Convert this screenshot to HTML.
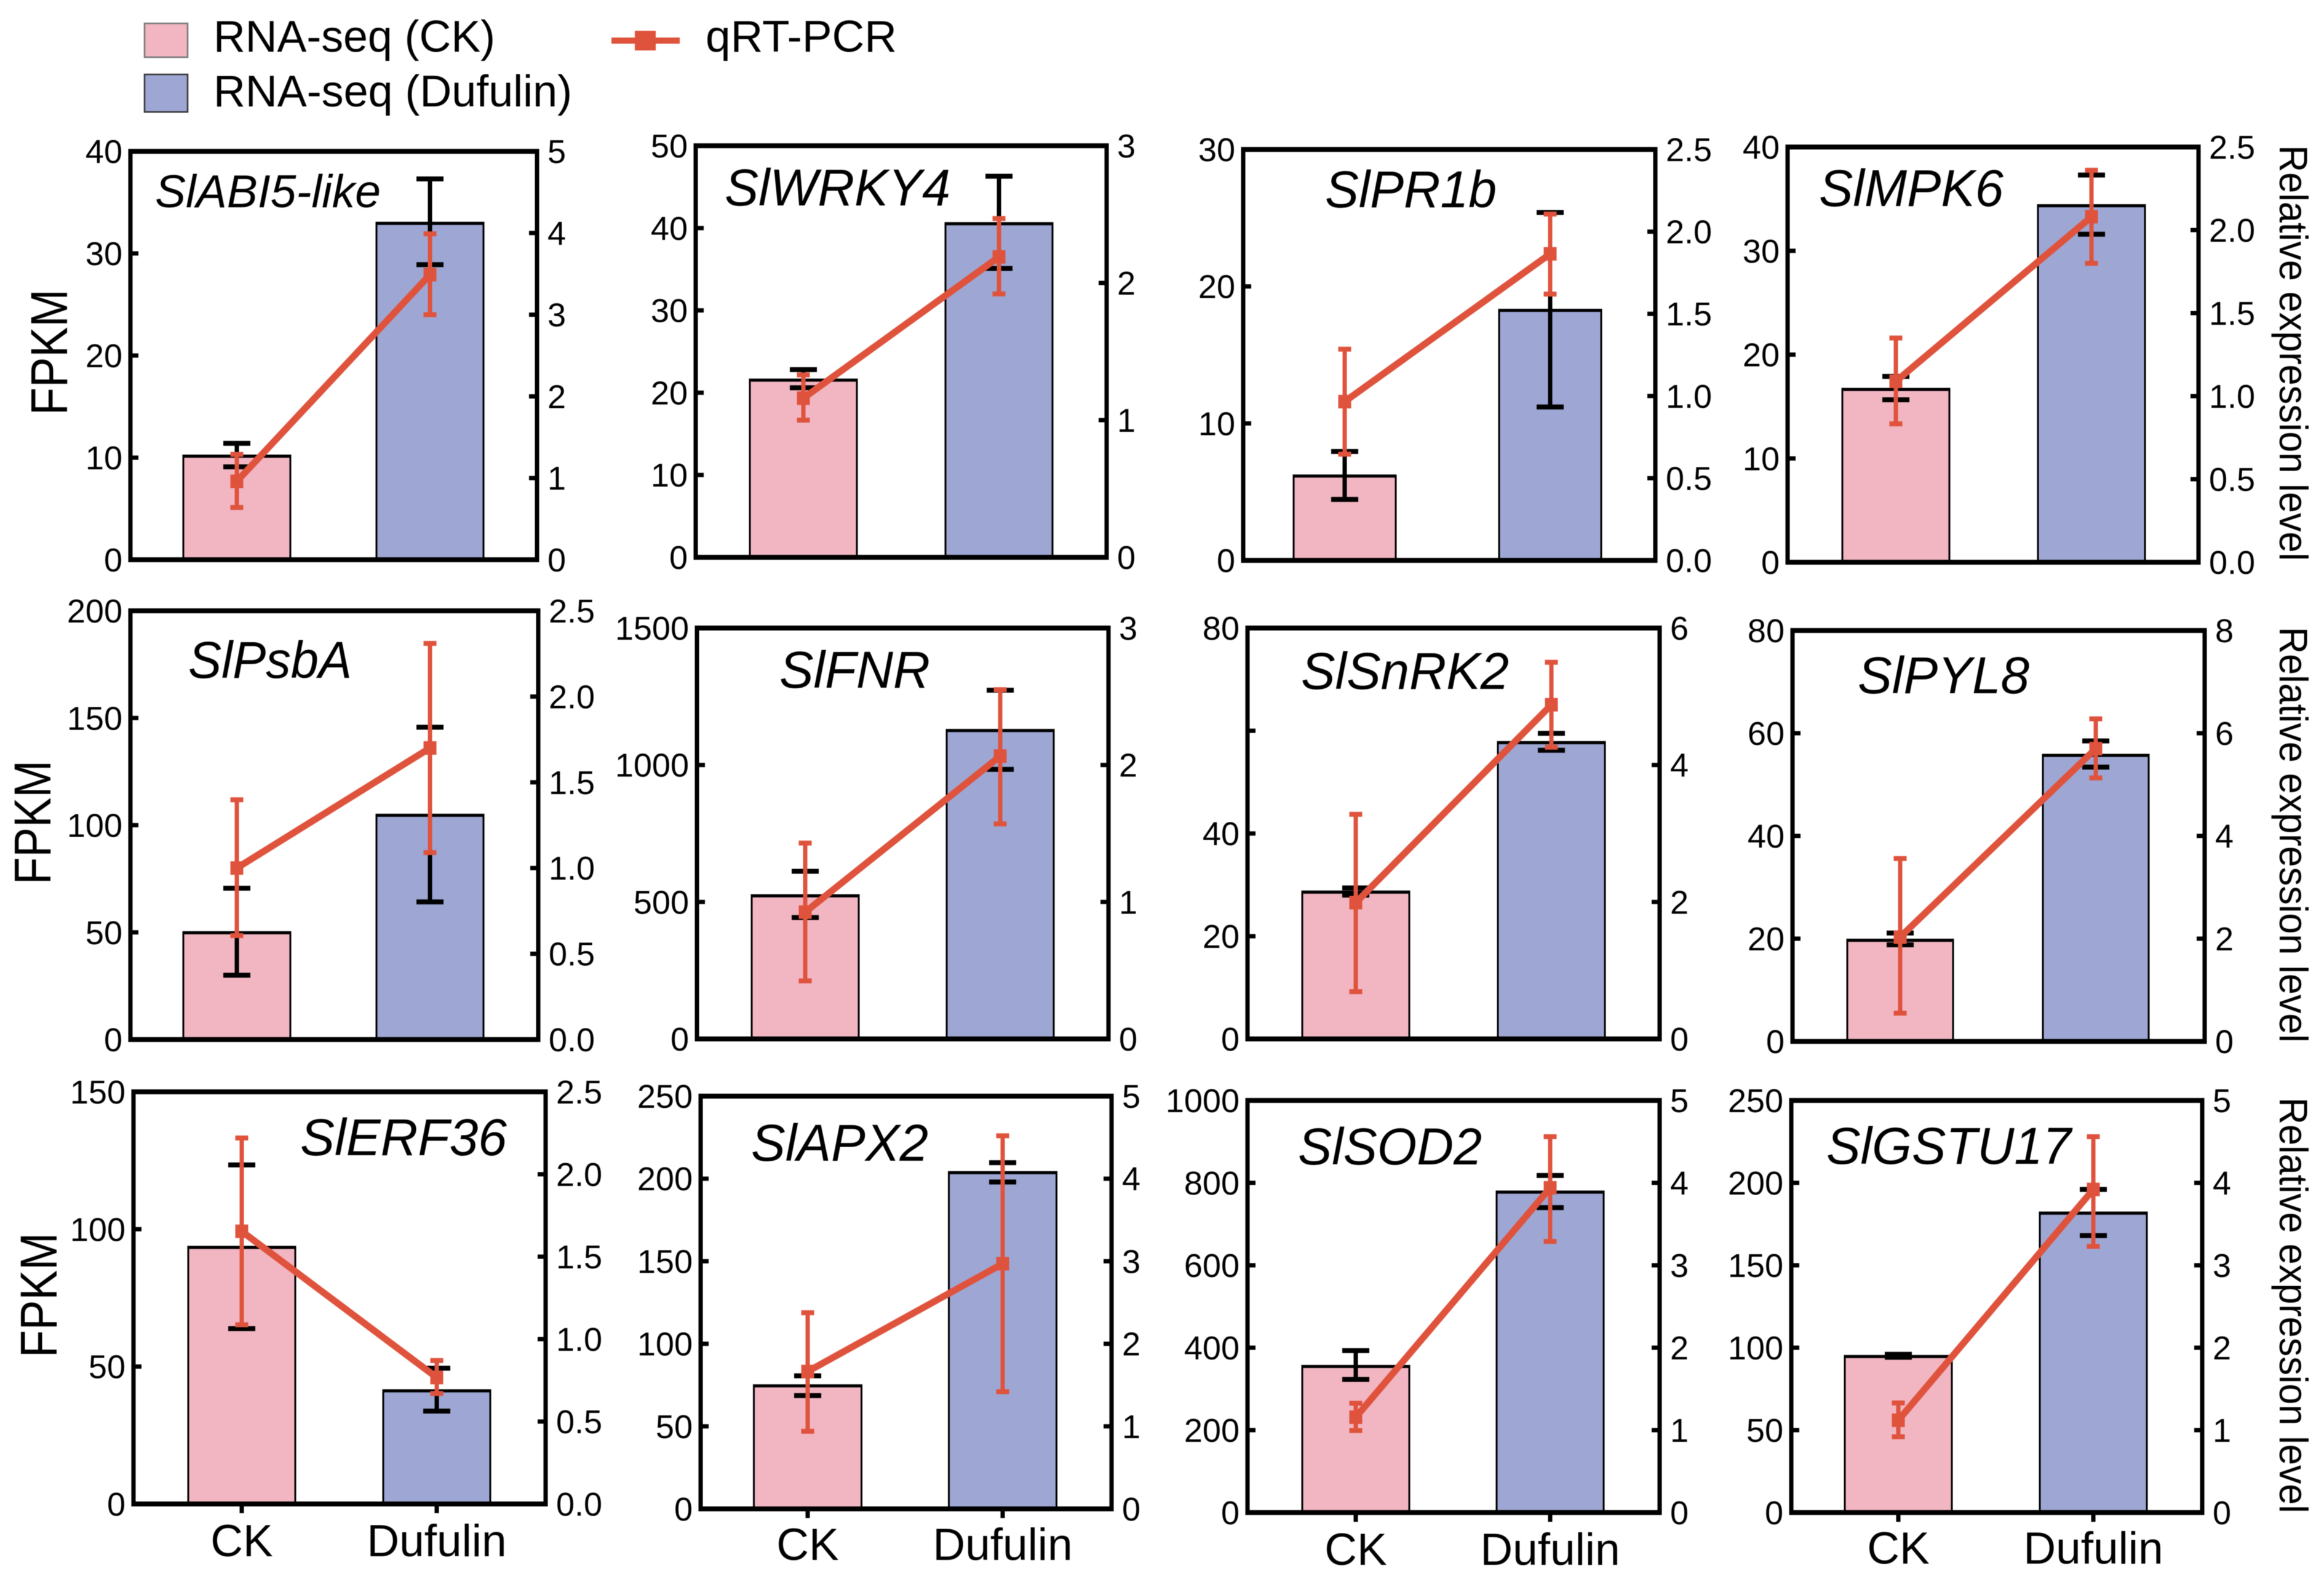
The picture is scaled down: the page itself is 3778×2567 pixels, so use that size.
<!DOCTYPE html>
<html lang="en">
<head>
<meta charset="utf-8">
<title>RNA-seq and qRT-PCR expression panels</title>
<style>
html,body{margin:0;padding:0;background:#fff;}
svg{display:block;filter:blur(0.6px);}
text{font-family:"Liberation Sans",sans-serif;fill:#000;}
</style>
</head>
<body>
<svg id="figure" xmlns="http://www.w3.org/2000/svg" width="3778" height="2567" viewBox="0 0 3778 2567">
  <rect width="3778" height="2567" fill="#fff"/>
  <g>
    <rect x="235" y="38" width="70" height="55" fill="#F1B6C2" stroke="#777" stroke-width="2.5"/>
    <text x="347" y="84" font-size="72" textLength="458" lengthAdjust="spacingAndGlyphs">RNA-seq (CK)</text>
    <rect x="235" y="121" width="70" height="61" fill="#9EA7D4" stroke="#333" stroke-width="2.5"/>
    <text x="347" y="173" font-size="72" textLength="583" lengthAdjust="spacingAndGlyphs">RNA-seq (Dufulin)</text>
    <line x1="994" y1="66" x2="1105" y2="66" stroke="#DF533D" stroke-width="10"/>
    <rect x="1032" y="50" width="34" height="32" fill="#DF533D"/>
    <text x="1147" y="84" font-size="72" textLength="311" lengthAdjust="spacingAndGlyphs">qRT-PCR</text>
  </g>
  <g id="panels"></g>
</svg>
<script>
// ---- Data ----
const geneNames = ['SlABI5-like','SlWRKY4','SlPR1b','SlMPK6','SlPsbA','SlFNR','SlSnRK2','SlPYL8','SlERF36','SlAPX2','SlSOD2','SlGSTU17'];
const categories = ['CK','Dufulin'];
const leftMax = [40,50,30,40,200,1500,80,80,150,250,1000,250];
const rightMax = [5,3,2.5,2.5,2.5,3,6,8,2.5,5,5,5];
const leftTicks = [
  [0,10,20,30,40],[0,10,20,30,40,50],[0,10,20,30],[0,10,20,30,40],
  [0,50,100,150,200],[0,500,1000,1500],[0,20,40,60,80],[0,20,40,60,80],
  [0,50,100,150],[0,50,100,150,200,250],[0,200,400,600,800,1000],[0,50,100,150,200,250]
];
const leftTickLabels = [
  ['0','10','20','30','40'],['0','10','20','30','40','50'],['0','10','20','30'],['0','10','20','30','40'],
  ['0','50','100','150','200'],['0','500','1000','1500'],['0','20','40','','80'],['0','20','40','60','80'],
  ['0','50','100','150'],['0','50','100','150','200','250'],['0','200','400','600','800','1000'],['0','50','100','150','200','250']
];
const rightTicks = [
  [0,1,2,3,4,5],[0,1,2,3],[0,0.5,1,1.5,2,2.5],[0,0.5,1,1.5,2,2.5],
  [0,0.5,1,1.5,2,2.5],[0,1,2,3],[0,2,4,6],[0,2,4,6,8],
  [0,0.5,1,1.5,2,2.5],[0,1,2,3,4,5],[0,1,2,3,4,5],[0,1,2,3,4,5]
];
const rightTickLabels = [
  ['0','1','2','3','4','5'],['0','1','2','3'],['0.0','0.5','1.0','1.5','2.0','2.5'],['0.0','0.5','1.0','1.5','2.0','2.5'],
  ['0.0','0.5','1.0','1.5','2.0','2.5'],['0','1','2','3'],['0','2','4','6'],['0','2','4','6','8'],
  ['0.0','0.5','1.0','1.5','2.0','2.5'],['0','1','2','3','4','5'],['0','1','2','3','4','5'],['0','1','2','3','4','5']
];
const fpkmMean = [[10.2,33],[21.6,40.6],[6.2,18.3],[16.7,34.4],[50.1,104.9],[524.6,1128],[28.7,57.8],[19.8,55.8],[93.6,41.4],[74.9,204],[356,779],[95,182]];
const fpkmHigh = [[11.4,37.3],[22.8,46.3],[7.95,25.4],[17.9,37.3],[70.6,145.7],[612,1273],[29.4,59.5],[21.1,58.5],[123.4,49.4],[80.6,209.7],[393,818],[96,196]];
const fpkmLow = [[9.1,28.9],[20.6,35.1],[4.45,11.2],[15.65,31.6],[30,64.2],[443,984],[28,56.2],[18.8,53.4],[63.8,33.8],[68.6,198],[323,740],[94.2,168]];
const qpcrMean = [[0.96,3.49],[1.16,2.19],[0.966,1.865],[1.089,2.08],[1.0,1.7],[0.926,2.065],[1.99,4.88],[2.03,5.7],[1.654,0.767],[1.664,2.97],[1.157,3.94],[1.12,3.92]];
const qpcrHigh = [[1.29,3.99],[1.33,2.47],[1.285,2.107],[1.35,2.36],[1.398,2.31],[1.43,2.55],[3.28,5.5],[3.56,6.28],[2.22,0.87],[2.376,4.52],[1.326,4.56],[1.33,4.56]];
const qpcrLow = [[0.64,3.0],[1.0,1.92],[0.646,1.62],[0.833,1.8],[0.606,1.09],[0.424,1.57],[0.69,4.26],[0.55,5.13],[1.087,0.67],[0.94,1.42],[0.995,3.29],[0.92,3.23]];
const leftAxisTitle = 'FPKM';
const rightAxisTitle = 'Relative expression level';

// ---- Layout (separate from the data) ----
const frameLeft = [212,1131,2021,2906,212,1133,2028,2914,217,1139,2028,2912];
const frameRight = [873,1799,2691,3574,875,1802,2698,3584,887,1807,2698,3580];
const frameTop = [246,237,243,239,993,1021,1021,1025,1775,1782,1789,1789];
const frameBottom = [910,906,911,914,1690,1689,1689,1693,2445,2453,2459,2459];
const barCenterA = [385,1306,2186,3082,385,1309,2204,3089,393,1313,2204,3086];
const barCenterB = [699,1624,2520,3400,699,1626,2522,3407,710,1630,2520,3403];
const barWidth = [174,174,166,174,174,174,174,172,174,175,174,174];
const titleX = [252,1178,2154,2957,306,1267,2115,3020,488,1221,2110,2969];
const titleY = [337,334,337,335,1102,1118,1120,1127,1878,1887,1893,1892];
const titleWidth = [367,367,279,300,266,245,338,279,336,288,299,398];
const titleSize = [75,84,84,84,84,84,84,84,84,84,84,84];
const leftTitleX = [109,82,92];
const leftTitleY = [675,1438,2207];
const leftTitleLen = [205,202,203];
const rightTitleY = [236,1019,1784];
const xLabelY = [null,null,null,null,null,null,null,null,2530,2536,2544,2542];

const PINK = '#F1B6C2', BLUE = '#9EA7D4', RED = '#DF533D', BLACK = '#000';
const SVGNS = 'http://www.w3.org/2000/svg';
const root = document.getElementById('panels');

function setAll(el, attrs) {
  for (const k in attrs) el.setAttribute(k, attrs[k]);
  return el;
}
function shape(parent, tag, attrs, name) {
  const el = setAll(document.createElementNS(SVGNS, tag), attrs);
  
  
  parent.appendChild(el);
  return el;
}
function label(parent, str, attrs, name) {
  const el = shape(parent, 'text', attrs, name);
  el.textContent = str;
  return el;
}
function hBar(parent, cx, y, w, h, fill, name) {
  return shape(parent, 'rect', {x: cx - w / 2, y: y - h / 2, width: w, height: h, fill: fill}, name);
}
function vStem(parent, cx, y1, y2, w, fill, name) {
  return shape(parent, 'rect', {x: cx - w / 2, y: Math.min(y1, y2), width: w, height: Math.abs(y2 - y1), fill: fill}, name);
}

geneNames.forEach(function (gene, i) {
  const L = frameLeft[i], R = frameRight[i], T = frameTop[i], B = frameBottom[i];
  const yLeft = function (v) { return B - (v / leftMax[i]) * (B - T); };
  const yRight = function (v) { return B - (v / rightMax[i]) * (B - T); };
  const centers = [barCenterA[i], barCenterB[i]];
  const bw = barWidth[i];
  const g = shape(root, 'g', {}, 'panel-' + gene.toLowerCase());

  // bars
  categories.forEach(function (cat, c) {
    const top = yLeft(fpkmMean[i][c]);
    const key = cat.toLowerCase();
    shape(g, 'rect', {x: centers[c] - bw / 2, y: top, width: bw, height: B - top, fill: c === 0 ? PINK : BLUE, stroke: BLACK, 'stroke-width': 3}, 'bar-' + key);
    hBar(g, centers[c], top + 1, bw + 3, 5, BLACK, 'bar-top-' + key);
  });

  // RNA-seq error bars
  categories.forEach(function (cat, c) {
    const key = cat.toLowerCase();
    vStem(g, centers[c], yLeft(fpkmHigh[i][c]), yLeft(fpkmLow[i][c]), 7, BLACK, 'fpkm-error-stem-' + key);
    hBar(g, centers[c], yLeft(fpkmHigh[i][c]), 44, 8, BLACK, 'fpkm-error-cap-high-' + key);
    hBar(g, centers[c], yLeft(fpkmLow[i][c]), 44, 8, BLACK, 'fpkm-error-cap-low-' + key);
  });

  // frame
  shape(g, 'rect', {x: L - 3.5, y: T - 3.5, width: 7, height: B - T + 7, fill: BLACK}, 'left-axis-spine');
  shape(g, 'rect', {x: R - 3.5, y: T - 3.5, width: 7, height: B - T + 7, fill: BLACK}, 'right-axis-spine');
  shape(g, 'rect', {x: L - 3.5, y: T - 4, width: R - L + 7, height: 8, fill: BLACK}, 'top-spine');
  shape(g, 'rect', {x: L - 3.5, y: B - 4, width: R - L + 7, height: 8, fill: BLACK}, 'bottom-spine');

  // left ticks
  leftTicks[i].forEach(function (v, k) {
    const y = yLeft(v);
    shape(g, 'rect', {x: L, y: y - 3.5, width: 13, height: 7, fill: BLACK}, 'left-tick');
    if (leftTickLabels[i][k] !== '') {
      label(g, leftTickLabels[i][k], {x: L - 13, y: y + 19, 'font-size': 54, 'text-anchor': 'end'}, 'left-tick-label');
    }
  });

  // right ticks
  rightTicks[i].forEach(function (v, k) {
    const y = yRight(v);
    shape(g, 'rect', {x: R - 13, y: y - 3.5, width: 13, height: 7, fill: BLACK}, 'right-tick');
    label(g, rightTickLabels[i][k], {x: R + 17, y: y + 19, 'font-size': 54}, 'right-tick-label');
  });

  // qRT-PCR error bars, line, markers
  categories.forEach(function (cat, c) {
    const key = cat.toLowerCase();
    vStem(g, centers[c], yRight(qpcrHigh[i][c]), yRight(qpcrLow[i][c]), 7, RED, 'qpcr-error-stem-' + key);
    hBar(g, centers[c], yRight(qpcrHigh[i][c]), 21, 8, RED, 'qpcr-error-cap-high-' + key);
    hBar(g, centers[c], yRight(qpcrLow[i][c]), 21, 8, RED, 'qpcr-error-cap-low-' + key);
  });
  shape(g, 'line', {x1: centers[0], y1: yRight(qpcrMean[i][0]), x2: centers[1], y2: yRight(qpcrMean[i][1]), stroke: RED, 'stroke-width': 11}, 'qpcr-line');
  categories.forEach(function (cat, c) {
    const y = yRight(qpcrMean[i][c]);
    shape(g, 'rect', {x: centers[c] - 10.5, y: y - 11, width: 21, height: 22, fill: RED}, 'qpcr-marker-' + cat.toLowerCase());
  });

  // gene title
  label(g, gene, {x: titleX[i], y: titleY[i], 'font-size': titleSize[i], 'font-style': 'italic', textLength: titleWidth[i], lengthAdjust: 'spacingAndGlyphs'}, 'gene-title');

  // category axis on the bottom row
  if (xLabelY[i] !== null) {
    categories.forEach(function (cat, c) {
      shape(g, 'rect', {x: centers[c] - 3.5, y: B, width: 7, height: 15, fill: BLACK}, 'x-tick-' + cat.toLowerCase());
      label(g, cat, {x: centers[c], y: xLabelY[i], 'font-size': 73, 'text-anchor': 'middle'}, 'x-tick-label-' + cat.toLowerCase());
    });
  }

  // axis titles on first and last columns
  const col = i % 4, row = Math.floor(i / 4);
  if (col === 0) {
    label(g, leftAxisTitle, {transform: 'translate(' + leftTitleX[row] + ',' + leftTitleY[row] + ') rotate(-90)', x: 0, y: 0, 'font-size': 84, textLength: leftTitleLen[row], lengthAdjust: 'spacingAndGlyphs'}, 'left-axis-title');
  }
  if (col === 3) {
    label(g, rightAxisTitle, {transform: 'translate(3706,' + rightTitleY[row] + ') rotate(90)', x: 0, y: 0, 'font-size': 65, textLength: 676, lengthAdjust: 'spacingAndGlyphs'}, 'right-axis-title');
  }
});
</script>
</body>
</html>
